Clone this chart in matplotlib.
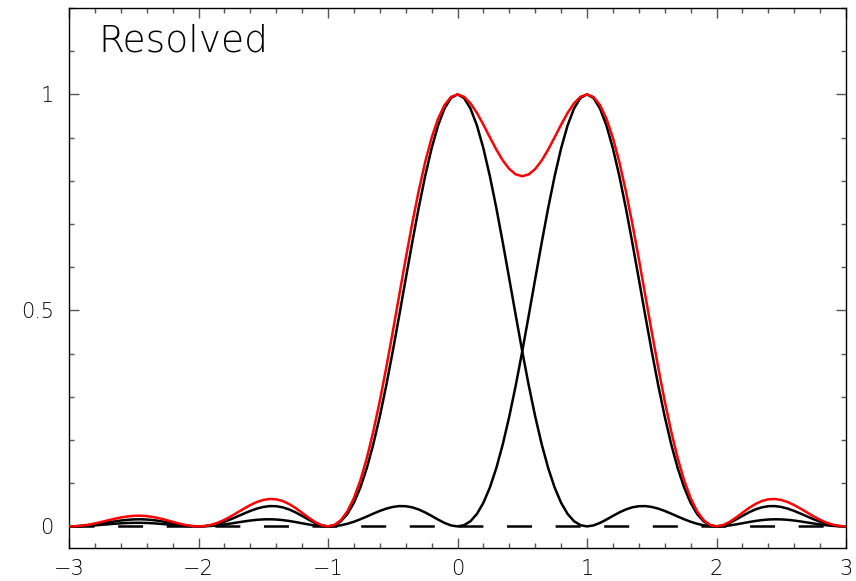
import numpy as np
import matplotlib
matplotlib.use("Agg")
import matplotlib.pyplot as plt
from matplotlib.ticker import MultipleLocator

# ---- data ----
x_min, x_max = -3.0, 3.0
n_samples = 121
title_text = "Resolved"

# intensity of the first source (centred at 0)
intensity_a = [
    0, .00028, .00115, .00257, .00447, .00670, .00910, .01145, .01356, .01520,
    .01621, .01647, .01591, .01457, .01254, .01001, .00723, .00452, .00219, .00059,
    0, .00065, .00268, .00610, .01080, .01654, .02295, .02955, .03580, .04114,
    .04503, .04701, .04676, .04414, .03924, .03242, .02431, .01579, .00800, .00225,
    0, .00275, .01194, .02890, .05470, .09006, .13534, .19039, .25457, .32675,
    .40528, .48811, .57279, .65664, .73684, .81057, .87514, .92813, .96754, .99181,
    1.0,
    .99181, .96754, .92813, .87514, .81057, .73684, .65664, .57279, .48811, .40528,
    .32675, .25457, .19039, .13534, .09006, .05470, .02890, .01194, .00275, 0,
    .00225, .00800, .01579, .02431, .03242, .03924, .04414, .04676, .04701, .04503,
    .04114, .03580, .02955, .02295, .01654, .01080, .00610, .00268, .00065, 0,
    .00059, .00219, .00452, .00723, .01001, .01254, .01457, .01591, .01647, .01621,
    .01520, .01356, .01145, .00910, .00670, .00447, .00257, .00115, .00028, 0,
]

# intensity of the second source (centred at 1)
intensity_b = [
    0, .00016, .00064, .00141, .00242, .00360, .00484, .00604, .00707, .00784,
    .00827, .00830, .00793, .00717, .00609, .00480, .00342, .00210, .00101, .00027,
    0, .00028, .00115, .00257, .00447, .00670, .00910, .01145, .01356, .01520,
    .01621, .01647, .01591, .01457, .01254, .01001, .00723, .00452, .00219, .00059,
    0, .00065, .00268, .00610, .01080, .01654, .02295, .02955, .03580, .04114,
    .04503, .04701, .04676, .04414, .03924, .03242, .02431, .01579, .00800, .00225,
    0, .00275, .01194, .02890, .05470, .09006, .13534, .19039, .25457, .32675,
    .40528, .48811, .57279, .65664, .73684, .81057, .87514, .92813, .96754, .99181,
    1.0,
    .99181, .96754, .92813, .87514, .81057, .73684, .65664, .57279, .48811, .40528,
    .32675, .25457, .19039, .13534, .09006, .05470, .02890, .01194, .00275, 0,
    .00225, .00800, .01579, .02431, .03242, .03924, .04414, .04676, .04701, .04503,
    .04114, .03580, .02955, .02295, .01654, .01080, .00610, .00268, .00065, 0,
]

# combined intensity (red)
intensity_sum = [
    0, .00044, .00179, .00398, .00689, .01030, .01394, .01749, .02063, .02304,
    .02448, .02477, .02384, .02174, .01863, .01481, .01065, .00662, .00320, .00086,
    0, .00093, .00383, .00867, .01527, .02324, .03205, .04100, .04936, .05634,
    .06124, .06348, .06267, .05871, .05178, .04243, .03154, .02031, .01019, .00284,
    0, .00340, .01462, .03500, .06550, .10660, .15829, .21994, .29037, .36789,
    .45031, .53512, .61955, .70078, .77608, .84299, .89945, .94392, .97554, .99406,
    1.0, .99456, .97948, .95703, .92984, .90063, .87218, .84703, .82736, .81486,
    .81056,
    .81486, .82736, .84703, .87218, .90063, .92984, .95703, .97948, .99456, 1.0,
    .99406, .97554, .94392, .89945, .84299, .77608, .70078, .61955, .53512, .45031,
    .36789, .29037, .21994, .15829, .10660, .06550, .03500, .01462, .00340, 0,
    .00284, .01019, .02031, .03154, .04243, .05178, .05871, .06267, .06348, .06124,
    .05634, .04936, .04100, .03205, .02324, .01527, .00867, .00383, .00093, 0,
]

baseline_value = 0.0

x_major_ticks = [-3, -2, -1, 0, 1, 2, 3]
y_major_ticks = [0, 0.5, 1]
y_tick_labels = ["0", "0.5", "1"]

# ---- plotting ----
plt.rcParams['lines.scale_dashes'] = False
plt.rcParams['axes.unicode_minus'] = True
FONT = ['DejaVu Sans']
WEIGHT = 200

x = np.linspace(x_min, x_max, n_samples)

fig = plt.figure(figsize=(8.56, 5.81), dpi=100)
ax = fig.add_axes([69/856, 33/581, 777/856, 540/581])

ax.plot([x_min, x_max], [baseline_value, baseline_value], color='black',
        lw=1.8, dashes=(18, 17), solid_capstyle='butt', dash_capstyle='butt', zorder=1)
ax.plot(x, intensity_a, color='black', lw=1.8, zorder=2)
ax.plot(x, intensity_b, color='black', lw=1.8, zorder=2)
ax.plot(x, intensity_sum, color='#ff0000', lw=1.8, zorder=3)

ax.set_xlim(x_min, x_max)
ax.set_ylim(-0.05, 1.2)

ax.set_xticks(x_major_ticks)
ax.set_xticklabels([str(v).replace('-', '\u2212') for v in x_major_ticks])
ax.set_yticks(y_major_ticks)
ax.set_yticklabels(y_tick_labels)
ax.xaxis.set_minor_locator(MultipleLocator(0.2))
ax.yaxis.set_minor_locator(MultipleLocator(0.1))

ax.tick_params(which='both', direction='in', top=True, right=True,
               color='#555555', width=1)
ax.tick_params(which='major', length=7)
ax.tick_params(which='minor', length=3.8)
ax.tick_params(axis='x', which='major', pad=8)
ax.tick_params(axis='y', which='major', pad=11)

for lab in ax.get_xticklabels() + ax.get_yticklabels():
    lab.set_family(FONT)
    lab.set_fontweight(WEIGHT)
    lab.set_fontsize(15)
    lab.set_color('black')

for sp in ax.spines.values():
    sp.set_color('black')
    sp.set_linewidth(1)

ax.text(29/777, (548-51)/540, title_text, transform=ax.transAxes,
        family=FONT, fontweight=WEIGHT, fontsize=27, va='baseline', ha='left')

fig.savefig('out.png', dpi=100)
